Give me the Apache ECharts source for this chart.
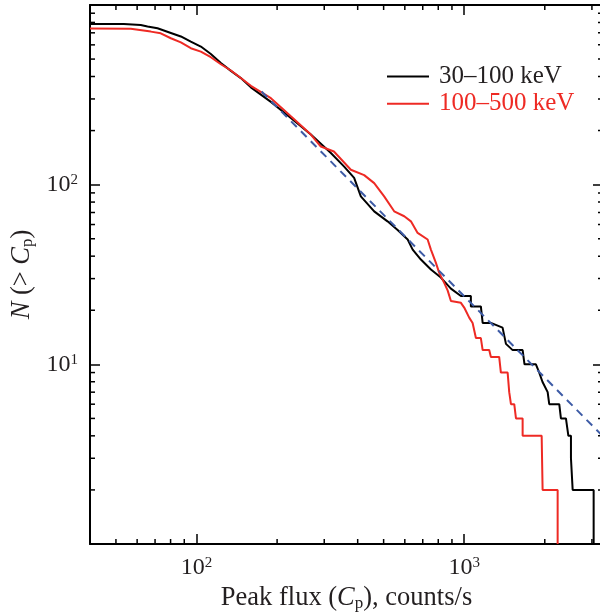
<!DOCTYPE html>
<html><head><meta charset="utf-8">
<script src="https://cdn.jsdelivr.net/npm/echarts@6/dist/echarts.min.js"></script>
<style>html,body{margin:0;padding:0;background:#fff}#c{width:600px;height:615px}</style>
</head><body><div id="c"></div>
<script>
// 30–100 keV cumulative distribution
const blackC = [40, 53.5, 61.9, 65.6, 71.5, 80.2, 87.4, 95.2, 103.8, 113.1, 123.3, 134.4, 146.4, 159.6, 189.6, 225.1, 267.4, 317.6, 356.1, 388, 411, 461, 517, 564, 615, 642, 689, 751, 818, 892, 972, 1059, 1059, 1154, 1172, 1258, 1391, 1400, 1432, 1517, 1653, 1680, 1853, 1907, 1960, 2050, 2078, 2265, 2298, 2399, 2450, 2505, 2505, 2542, 2542, 3045, 3045];
const blackN = [784, 784, 774, 760, 742, 699, 668, 625, 587, 534, 476, 430, 392, 348, 289, 235, 190, 150, 126, 109, 86, 71, 62.5, 56, 49.5, 43.5, 38.3, 33.7, 30.4, 26.4, 24, 24, 21, 21, 17, 17, 16, 16, 13, 12, 12, 10, 10, 9, 8, 7, 6, 6, 5, 5, 4, 4, 3, 3, 2, 2, 1];
// 100–500 keV cumulative distribution
const redC = [40, 56.8, 67.5, 73.5, 80.2, 87.4, 95.2, 103.8, 113.1, 123.3, 134.4, 146.4, 159.6, 189.6, 225.1, 267.4, 291.4, 326, 377.2, 422.9, 461, 502.3, 547.5, 597, 632.3, 669.9, 730.1, 750.9, 784, 806.6, 842, 867, 892, 972, 1000, 1044, 1075, 1106, 1154, 1172, 1240, 1258, 1351, 1371, 1453, 1473, 1495, 1538, 1561, 1653, 1653, 1947, 1963, 2234, 2234];
const redN = [740, 738, 711, 696, 653, 619, 575, 550, 512, 468, 432, 392, 355, 303, 240, 190, 163, 153, 121, 113, 102, 86.1, 71.1, 66.7, 62.5, 53.9, 49.5, 43.5, 36.7, 32.3, 28.4, 25.8, 22.5, 22, 20.7, 18.2, 17, 14, 14, 12, 12, 11, 11, 9, 9, 7, 6, 6, 5, 5, 4, 4, 2, 2, 1];
// power-law fit (dashed) end points
const fitC = [175, 3300];
const fitN = [330, 3.97];
// axes
const xRange = [40, 3300];
const yRange = [1, 1000];
const xTickLabels = [100, 1000];
const yTickLabels = [10, 100];
const xMinorTicks = [50, 60, 70, 80, 90, 200, 300, 400, 500, 600, 700, 800, 900, 2000, 3000];
const yMinorTicks = [2, 3, 4, 5, 6, 7, 8, 9, 20, 30, 40, 50, 60, 70, 80, 90, 200, 300, 400, 500, 600, 700, 800, 900];
const seriesNames = ['30–100 keV', '100–500 keV'];
const xTitle = '{t|Peak flux (}{i|C}{sub|p}{t|), counts/s}';
const yTitle = '{i|N}{t| (> }{i|C}{sub|p}{t|)}';

const FONT = 'Liberation Serif';
const TXT = '#231f20';
const RED = '#ee2a24';

function pair(a, b) { return a.map((v, i) => [v, b[i]]); }
function powLabel(list) {
  return function (v) {
    const e = Math.round(Math.log10(v));
    if (Math.abs(Math.log10(v) - e) > 1e-6) return '';
    if (!list.some(t => Math.abs(t - v) < 1e-6 * t)) return '';
    return '{b|10}{s|' + e + '}';
  };
}
const labelRich = {
  b: { fontFamily: FONT, fontSize: 24, lineHeight: 24, color: TXT, verticalAlign: 'bottom' },
  s: { fontFamily: FONT, fontSize: 15, lineHeight: 17, color: TXT, verticalAlign: 'top' }
};
const nameRich = {
  t: { fontFamily: FONT, fontSize: 26.5, lineHeight: 30, color: TXT, verticalAlign: 'bottom' },
  i: { fontFamily: FONT, fontSize: 26.5, lineHeight: 30, color: TXT, fontStyle: 'italic', verticalAlign: 'bottom' },
  sub: { fontFamily: FONT, fontSize: 17, lineHeight: 14, color: TXT, verticalAlign: 'bottom' }
};
const axisLineStyle = { color: '#000', width: 2 };
const tickStyle = { show: true, inside: true, length: 10, lineStyle: { color: '#000', width: 1.5 } };

const chart = echarts.init(document.getElementById('c'), null, { renderer: 'canvas' });
chart.setOption({
  animation: false,
  backgroundColor: '#fff',
  grid: { left: 90, top: 5, width: 513, height: 539, containLabel: false, outerBoundsMode: 'none' },
  legend: {
    orient: 'vertical', left: 387, top: 64, padding: 0, itemWidth: 42, itemHeight: 2, itemGap: 2.3,
    icon: 'rect', selectedMode: false,
    textStyle: { fontFamily: FONT, fontSize: 25, lineHeight: 25, padding: [0, 0, 0, 5] },
    data: [
      { name: seriesNames[0], textStyle: { color: TXT } },
      { name: seriesNames[1], textStyle: { color: RED } }
    ]
  },
  xAxis: [
    {
      type: 'log', logBase: 10, min: xRange[0], max: xRange[1], position: 'bottom',
      axisLine: { show: true, onZero: false, lineStyle: axisLineStyle },
      axisTick: tickStyle, splitLine: { show: false },
      axisLabel: { margin: 12, formatter: powLabel(xTickLabels), rich: labelRich, showMinLabel: true, showMaxLabel: true },
      name: xTitle, nameLocation: 'middle', nameGap: 35,
      nameTextStyle: { rich: nameRich }
    },
    {
      type: 'log', logBase: 10, min: xRange[0], max: xRange[1], position: 'top',
      axisLine: { show: true, onZero: false, lineStyle: axisLineStyle },
      axisTick: tickStyle, splitLine: { show: false }, axisLabel: { show: false }
    }
  ],
  yAxis: [
    {
      type: 'log', logBase: 10, min: yRange[0], max: yRange[1], position: 'left',
      axisLine: { show: true, onZero: false, lineStyle: axisLineStyle },
      axisTick: tickStyle, splitLine: { show: false },
      axisLabel: { margin: 12, formatter: powLabel(yTickLabels), rich: labelRich },
      name: yTitle, nameLocation: 'middle', nameGap: 50, nameRotate: 90,
      nameTextStyle: { rich: nameRich }
    },
    {
      type: 'log', logBase: 10, min: yRange[0], max: yRange[1], position: 'right',
      axisLine: { show: true, onZero: false, lineStyle: axisLineStyle },
      axisTick: tickStyle, splitLine: { show: false }, axisLabel: { show: false }
    }
  ],
  series: [
    {
      name: seriesNames[0], type: 'line', data: pair(blackC, blackN), symbol: 'none',
      lineStyle: { color: '#000', width: 2 }, itemStyle: { color: '#000' }, z: 3
    },
    {
      name: seriesNames[1], type: 'line', data: pair(redC, redN), symbol: 'none',
      lineStyle: { color: RED, width: 2 }, itemStyle: { color: RED }, z: 4
    },
    {
      name: 'fit', type: 'line', data: pair(fitC, fitN), symbol: 'none',
      lineStyle: { color: '#3d5ba6', width: 2, type: [8, 6] }, z: 5
    },
    {
      name: 'xminor', type: 'custom', silent: true, clip: false, z: 6,
      data: xMinorTicks.map(v => [v, yRange[0]]),
      renderItem: function (params, api) {
        const v = api.value(0);
        const b = api.coord([v, yRange[0]]);
        const t = api.coord([v, yRange[1]]);
        const st = { stroke: '#000', lineWidth: 1.5 };
        return { type: 'group', children: [
          { type: 'line', shape: { x1: b[0], y1: b[1], x2: b[0], y2: b[1] - 5 }, style: st },
          { type: 'line', shape: { x1: t[0], y1: t[1], x2: t[0], y2: t[1] + 5 }, style: st }
        ] };
      }
    },
    {
      name: 'yminor', type: 'custom', silent: true, clip: false, z: 6,
      data: yMinorTicks.map(v => [xRange[0], v]),
      renderItem: function (params, api) {
        const v = api.value(1);
        const l = api.coord([xRange[0], v]);
        const r = api.coord([xRange[1], v]);
        const st = { stroke: '#000', lineWidth: 1.5 };
        return { type: 'group', children: [
          { type: 'line', shape: { x1: l[0], y1: l[1], x2: l[0] + 5, y2: l[1] }, style: st },
          { type: 'line', shape: { x1: r[0], y1: r[1], x2: r[0] - 5, y2: r[1] }, style: st }
        ] };
      }
    }
  ]
});
</script>
</body></html>
